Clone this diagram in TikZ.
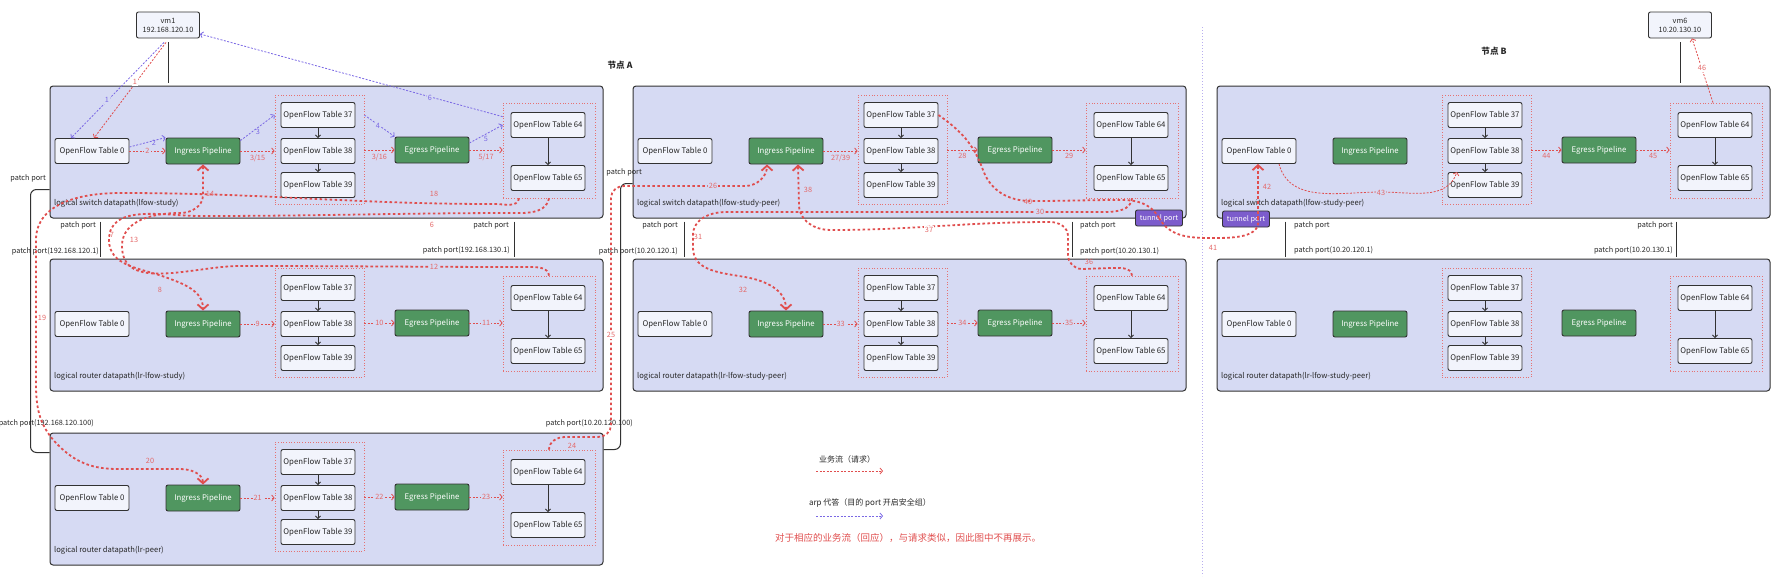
\documentclass[tikz,border=0pt]{standalone}
\usepackage{fontspec}
\setmainfont{Noto Sans CJK SC}
\usetikzlibrary{arrows.meta,positioning,calc}
\definecolor{panelc}{RGB}{214,218,243}
\definecolor{tablec}{RGB}{242,244,252}
\definecolor{pipec}{RGB}{80,150,96}
\definecolor{tunc}{RGB}{124,92,204}
\definecolor{reqc}{RGB}{224,78,78}
\definecolor{lblc}{RGB}{228,104,104}
\definecolor{arpc}{RGB}{122,104,228}
\definecolor{edgec}{RGB}{50,50,50}
\definecolor{divc}{RGB}{184,174,240}
\tikzstyle{panel}=[draw=edgec,fill=panelc,line width=1pt,rounded corners=3pt,minimum width=553,minimum height=132,inner sep=0pt]
\tikzstyle{panellabel}=[anchor=west,font=\fontsize{7.6}{8}\selectfont,text=black!85,inner sep=0pt]
\tikzstyle{grp}=[draw=reqc!80,dotted,line width=0.7pt,inner sep=0pt]
\tikzstyle{flowtable}=[draw=edgec,fill=tablec,line width=0.9pt,rounded corners=2pt,minimum width=74,minimum height=25,inner sep=0pt,text=black!85,font=\fontsize{7.8}{8}\selectfont]
\tikzstyle{pipe}=[flowtable,fill=pipec,text=white,minimum height=26]
\tikzstyle{vm}=[flowtable,minimum width=63,minimum height=26,align=center,font=\fontsize{7.3}{9}\selectfont]
\tikzstyle{tunnel}=[draw=edgec,fill=tunc,text=white,rounded corners=2pt,line width=0.9pt,minimum width=47,minimum height=16,inner sep=0pt,font=\fontsize{7.3}{8}\selectfont]
\tikzstyle{tarrow}=[draw=edgec,line width=0.9pt,-{Straight Barb[length=2.5pt,width=5pt]}]
\tikzstyle{portline}=[draw=edgec,line width=1pt]
\tikzstyle{bracket}=[portline,rounded corners=6pt]
\tikzstyle{portlabel}=[font=\fontsize{7.3}{8}\selectfont,text=black!85,inner sep=0pt]
\tikzstyle{reqflow}=[draw=reqc,line width=0.8pt,dash pattern=on 2pt off 1.5pt,-{Straight Barb[length=2.5pt,width=6pt]}]
\tikzstyle{arpflow}=[reqflow,draw=arpc]
\tikzstyle{bigflow}=[draw=reqc,line width=1.8pt,dash pattern=on 2.6pt off 2.4pt]
\tikzstyle{bigtip}=[-{Straight Barb[length=5pt,width=11pt]}]
\tikzstyle{lblr}=[text=lblc,font=\fontsize{7.3}{8}\selectfont,inner sep=1pt]
\tikzstyle{lblp}=[lblr,text=arpc]
\tikzstyle{nodetitle}=[font=\fontsize{8.6}{9}\selectfont\bfseries,text=black!85]
\tikzstyle{legendtext}=[font=\fontsize{8}{9}\selectfont,text=black!85]
\tikzstyle{notetext}=[font=\fontsize{9.5}{10}\selectfont,text=reqc]
\begin{document}
\begin{tikzpicture}[x=1pt,y=-1pt]
   \useasboundingbox (0,0) rectangle (1781,576);

   % node separator
   \draw[divc, dotted, line width=1pt] (1202,27) -- (1202,576);

   % datapaths
   \foreach \x/\y/\p/\name in {50/86/sa/logical switch datapath(lfow-study), 50/259/ra/logical router datapath(lr-lfow-study), 50/433/rp/logical router datapath(lr-peer), 633/86/sb/logical switch datapath(lfow-study-peer), 633/259/rb/logical router datapath(lr-lfow-study-peer), 1217/86/sc/logical switch datapath(lfow-study-peer), 1217/259/rc/logical router datapath(lr-lfow-study-peer)}
   {
      \node[panel] (\p) at (\x+276.5,\y+66) {};
      \node[panellabel] (\p-lab) at (\x+4,\y+117) {\name};
      \node[grp, minimum width=89, minimum height=109] (\p-g1) at (\x+269.5,\y+63.5) {};
      \node[grp, minimum width=92, minimum height=95] (\p-g2) at (\x+499,\y+64.5) {};
      \node[flowtable] (\p-of0) at (\x+42,\y+65) {OpenFlow Table 0};
      \node[pipe] (\p-in) at (\x+153,\y+65) {Ingress Pipeline};
      \node[flowtable] (\p-t37) at (\x+268,\y+29) {OpenFlow Table 37};
      \node[flowtable] (\p-t38) at (\x+268,\y+65) {OpenFlow Table 38};
      \node[flowtable] (\p-t39) at (\x+268,\y+99) {OpenFlow Table 39};
      \node[pipe] (\p-eg) at (\x+382,\y+64) {Egress Pipeline};
      \node[flowtable] (\p-t64) at (\x+498,\y+39) {OpenFlow Table 64};
      \node[flowtable] (\p-t65) at (\x+498,\y+92) {OpenFlow Table 65};
      \draw[tarrow] (\p-t37) -- (\p-t38);
      \draw[tarrow] (\p-t38) -- (\p-t39);
      \draw[tarrow] (\p-t64) -- (\p-t65);
   }

   \node[vm] (vm1) at (168,25) {vm1\\192.168.120.10};
   \node[vm] (vm6) at (1680,25) {vm6\\10.20.130.10};
   \draw[portline] ([shift={(0,4)}]vm1.south) -- ([shift={(0,-3)}]vm1.south |- sa.north);
   \draw[portline] ([shift={(0,4)}]vm6.south) -- ([shift={(0,-3)}]vm6.south |- sc.north);

   \node[nodetitle] (nodeA) at (620,65) {节点 A};
   \node[nodetitle] (nodeB) at (1494,51) {节点 B};

   \node[tunnel] (tunB) at (1159,218) {tunnel port};
   \node[tunnel] (tunC) at (1246,219) {tunnel port};

   % patch ports
   \foreach \s/\r/\dx in {sa/ra/51, sa/ra/465, sb/rb/52, sb/rb/440, sc/rc/69, sc/rc/460}
      \draw[portline] ([shift={(\dx,3)}]\s.south west) -- ([shift={(\dx,-2)}]\r.north west);
   \draw[bracket] ([shift={(0,104)}]sa.north west) -| ([shift={(-19,20)}]rp.north west) -- ([shift={(0,20)}]rp.north west);
   \draw[bracket] ([shift={(0,98)}]sb.north west) -| ([shift={(17,17)}]rp.north east) -- ([shift={(0,17)}]rp.north east);

   \foreach \pos/\name/\label in {{(96,225)/pa1/patch port}, {(99,251)/pa2/patch port(192.168.120.1)}, {(509,225)/pa3/patch port}, {(510,250)/pa4/patch port(192.168.130.1)}, {(46,178)/pa5/patch port}, {(94,423)/pa6/patch port(192.168.120.100)}, {(678,225)/pb1/patch port}, {(678,251)/pb2/patch port(10.20.120.1)}, {(642,172)/pb5/patch port}, {(633,423)/pb6/patch port(10.20.120.100)}, {(1673,225)/pc3/patch port}, {(1673,250)/pc4/patch port(10.20.130.1)}}
      \node[portlabel, left] (\name) at \pos {\label};
   \foreach \pos/\name/\label in {{(1080,225)/pb3/patch port}, {(1080,251)/pb4/patch port(10.20.130.1)}, {(1294,225)/pc1/patch port}, {(1294,250)/pc2/patch port(10.20.120.1)}}
      \node[portlabel, right] (\name) at \pos {\label};

   % arp reply (purple)
   \draw[arpflow] ([shift={(-4,4)}]vm1.south) -- ([xshift=-21]sa-of0.north);
   \node[lblp, fill=panelc] (p1) at (107,100) {1};
   \draw[arpflow] ([shift={(0,-4)}]sa-of0.east) -- (sa-in.north west);
   \node[lblp] (p2) at (154,143) {2};
   \draw[arpflow] ([shift={(0,3)}]sa-in.north east) -- (sa-t37.west -| sa-g1.west);
   \node[lblp] (p3) at (258,132) {3};
   \draw[arpflow] (sa-t37.east -| sa-g1.east) -- (sa-eg.north west);
   \node[lblp, fill=panelc] (p4) at (378,126) {4};
   \draw[arpflow] ([shift={(0,-7)}]sa-eg.east) -- (sa-t64.west -| sa-g2.west);
   \node[lblp] (p5) at (486,139) {5};
   \draw[arpflow] ([shift={(0,14)}]sa-g2.north west) -- ([shift={(0,9)}]vm1.east);
   \node[lblp, fill=panelc] (p6) at (430,98) {6};

   % request flow (red), inside the datapaths
   \draw[reqflow] ([shift={(-2,4)}]vm1.south) -- ([xshift=2]sa-of0.north);
   \node[lblr, fill=white] (r1) at (135,82) {1};
   \draw[reqflow] (sa-of0) -- node[lblr, fill=panelc] {2} (sa-in);
   \foreach \source/\dest/\weight in {sa-in/sa-g1/3\slash 15, sa-eg/sa-g2/5\slash 17, sb-in/sb-g1/27\slash 39, sb-eg/sb-g2/29, sc-eg/sc-g2/45}
      \draw[reqflow] (\source.east) -- node[lblr, below=2pt] {\weight} (\source.east -| \dest.west);
   \foreach \source/\dest/\weight in {sa-g1/sa-eg/3\slash 16, sb-g1/sb-eg/28, sc-g1/sc-eg/44}
      \draw[reqflow] (\dest.west -| \source.east) -- node[lblr, below=2pt] {\weight} (\dest.west);
   \foreach \source/\dest/\weight in {ra-in/ra-g1/9, ra-eg/ra-g2/11, rp-in/rp-g1/21, rp-eg/rp-g2/23, rb-in/rb-g1/33, rb-eg/rb-g2/35}
      \draw[reqflow] (\source.east) -- node[lblr, fill=panelc] {\weight} (\source.east -| \dest.west);
   \foreach \source/\dest/\weight in {ra-g1/ra-eg/10, rp-g1/rp-eg/22, rb-g1/rb-eg/34}
      \draw[reqflow] (\dest.west -| \source.east) -- node[lblr, fill=panelc] {\weight} (\dest.west);
   \draw[reqflow] ([xshift=20]sc-of0.south) to[out=-75,in=180] (1381,192) to[out=0,in=-110] ([xshift=-28]sc-t39.north);
   \node[lblr, fill=panelc] (r43) at (1381,193) {43};
   \draw[reqflow] ([xshift=-3]sc-g2.north) -- ([xshift=12]vm6.south);
   \node[lblr, fill=white] (r46) at (1702,68) {46};

   % request flow (red), between the datapaths
   \draw[bigflow, bigtip] (sa-g2.south) to[out=-100,in=0] (520,213) to[out=180,in=0] (200,216) to[out=180,in=90] (109,240) to[out=-90,in=160] (165,277) to[out=-20,in=90] (ra-in.north);
   \draw[bigflow, bigtip] (ra-g2.north) to[out=95,in=0] (530,267) to[out=180,in=0] (240,266) to[out=180,in=-90] (122,246) to[out=90,in=180] (180,213) to[out=0,in=-90] (203,195) -- (sa-in.south);
   \draw[bigflow, bigtip] ([xshift=-30]sa-g2.south) to[out=-100,in=0] (495,204) to[out=180,in=0] (120,193) to[out=180,in=90] (36,240) -- (36,385) to[out=-90,in=135] (58,445) to[out=-45,in=180] (118,469) -- (180,469) to[out=0,in=90] (rp-in.north);
   \draw[bigflow, bigtip] (rp-g2.north) to[out=90,in=180] (565,437) -- (598,437) to[out=0,in=-90] (611,425) -- (611,198) to[out=90,in=180] (624,186) -- (745,186) to[out=0,in=-90] ([xshift=-19]sb-in.south);
   \draw[bigflow, bigtip] (sb-g2.south) to[out=-95,in=0] (1105,212) -- (725,212) to[out=180,in=90] (693,235) -- (693,248) to[out=-90,in=170] (745,277) to[out=-10,in=90] (rb-in.north);
   \draw[bigflow, bigtip] (rb-g2.north) to[out=95,in=0] (1110,268) -- (1082,269) to[out=180,in=-90] (1068,255) -- (1068,236) to[out=90,in=0] (1050,222) to[out=180,in=0] (830,230) to[out=180,in=-90] (799,205) -- ([xshift=12]sb-in.south);
   \draw[bigflow] (sb-t37.east) to[out=-35,in=110] (983,170) to[out=-70,in=180] (1031,201) to[out=0,in=180] (1122,200) to[out=0,in=120] (tunB.center);
   \draw[bigflow] (tunB.center) to[out=-60,in=180] (1212,238) to[out=0,in=-80] ([xshift=12]tunC.center);
   \draw[bigflow, bigtip] ([xshift=12]tunC.center) -- ([xshift=-1]sc-of0.south);

   \foreach \pos/\name/\label in {{(432,225)/f6/6}, {(112,235)/f7/7}, {(160,290)/f8/8}, {(134,240)/f13/13}, {(210,194)/f14/14}, {(434,194)/f18/18}, {(42,318)/f19/19}, {(150,461)/f20/20}, {(572,446)/f24/24}, {(698,237)/f31/31}, {(743,290)/f32/32}, {(1089,262)/f36/36}, {(808,190)/f38/38}, {(1028,202)/f40/40}, {(1213,248)/f41/41}, {(1267,187)/f42/42}}
      \node[lblr] (\name) at \pos {\label};
   \foreach \pos/\name/\label in {{(434,267)/f12/12}, {(713,186)/f26/26}, {(1040,212)/f30/30}}
      \node[lblr, fill=panelc] (\name) at \pos {\label};
   \foreach \pos/\name/\label in {{(611,335)/f25/25}, {(929,230)/f37/37}}
      \node[lblr, fill=white] (\name) at \pos {\label};

   % legend
   \node[legendtext] (lg1) at (847,459) {业务流（请求）};
   \coordinate (lg1a) at (816,471);
   \coordinate (lg1b) at (883,471);
   \draw[reqflow] (lg1a) -- (lg1b);
   \node[legendtext] (lg2) at (870,503) {arp 代答（目的 port 开启安全组）};
   \coordinate (lg2a) at (816,516);
   \coordinate (lg2b) at (883,516);
   \draw[arpflow] (lg2a) -- (lg2b);
   \node[notetext] (note) at (908,538) {对于相应的业务流（回应），与请求类似，因此图中不再展示。};

\end{tikzpicture}
\end{document}
